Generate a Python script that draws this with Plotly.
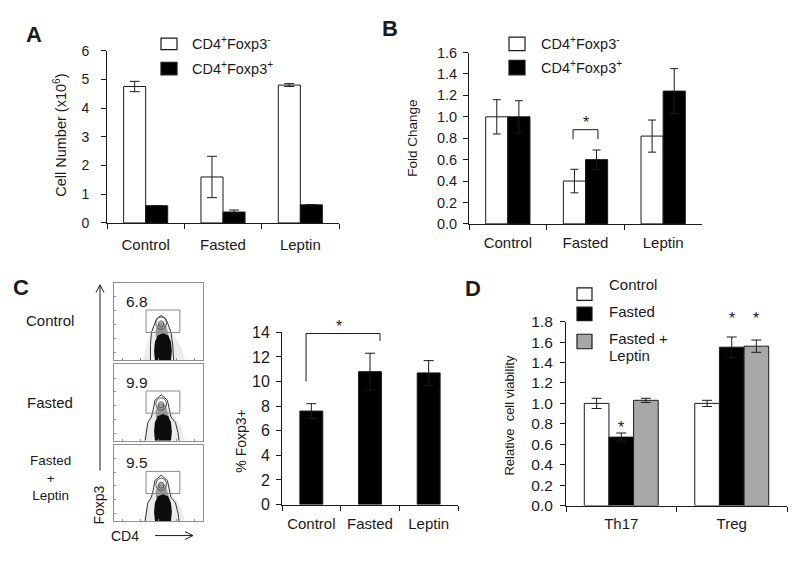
import plotly.graph_objects as go

W, H = 800, 562
FONT = "Liberation Sans, Arial, sans-serif"
INK = "#1a1a1a"
GREY_FILL = "#a8a8a8"
FRAME = "#8f8f8f"


def px(x):
    return x / W


def py(y):
    return 1 - y / H


# ---------------- data ----------------
CATS = ["Control", "Fasted", "Leptin"]

# Panel A: cell number (x10^6)
A_NEG = [4.75, 1.6, 4.8]
A_NEG_ERR = [0.18, 0.72, 0.05]
A_POS = [0.6, 0.38, 0.63]
A_POS_ERR = [0.0, 0.07, 0.0]
A_YTICKS = [0, 1, 2, 3, 4, 5, 6]

# Panel B: fold change
B_NEG = [1.0, 0.4, 0.82]
B_NEG_ERR = [0.16, 0.11, 0.15]
B_POS = [1.0, 0.6, 1.24]
B_POS_ERR = [0.15, 0.09, 0.21]
B_YTICKS = [0.0, 0.2, 0.4, 0.6, 0.8, 1.0, 1.2, 1.4, 1.6]
B_BRACKET_X = [1 - 0.16, 1 + 0.16]      # Fasted, CD4+Foxp3- vs CD4+Foxp3+
B_BRACKET_Y = [0.79, 0.88]
B_STAR = (1, 0.985)

# Panel C: flow plots
C_ROWS = ["Control", "Fasted", "Fasted<br>+<br>Leptin"]
C_GATE_PCT = ["6.8", "9.9", "9.5"]
# gate and contour outlines in flow-plot units (0-100)
GATE_X = [36, 74]
GATE_Y = [36, 65]
HALO_X = [33, 36, 42, 47, 61, 67, 76, 80]
HALO_Y = [0, 18, 34, 42, 42, 33, 16, 0]
CORE_X = [46, 45, 46, 49, 55, 61, 64, 65, 64]
CORE_Y = [0, 12, 24, 32, 35, 32, 24, 12, 0]
MID_X = [47, 47, 49, 53, 58, 60, 62]
MID_Y = [30, 40, 47, 50, 47, 40, 30]
OUT1_X = [41, 41, 42, 45, 48, 53, 58, 61, 64, 66, 67]
OUT1_Y = [0, 20, 36, 46, 54, 58, 54, 46, 36, 20, 0]
OUT2_X = [35, 36, 38, 42, 44, 46, 53, 60, 62, 64, 69, 72, 73]
OUT2_Y = [0, 10, 24, 31, 40, 53, 60, 53, 40, 31, 24, 10, 0]
RINGS = [(53, 48, 6, 8), (53, 47, 3, 4)]   # cx, cy, rx, ry

# Panel C: % Foxp3+
C_VALS = [7.6, 10.8, 10.7]
C_ERR = [0.6, 1.5, 1.0]
C_YTICKS = [0, 2, 4, 6, 8, 10, 12, 14]
C_BRACKET_X = [-0.09, 1.17]
C_BRACKET_Y = [10.0, 13.9, 13.3]   # left foot, top, right foot
C_STAR = (0.47, 14.8)

# Panel D: relative cell viability
D_CATS = ["Th17", "Treg"]
D_CTRL = [1.0, 1.0]
D_CTRL_ERR = [0.05, 0.03]
D_FAST = [0.67, 1.55]
D_FAST_ERR = [0.04, 0.10]
D_FL = [1.03, 1.56]
D_FL_ERR = [0.02, 0.06]
D_YTICKS = [0.0, 0.2, 0.4, 0.6, 0.8, 1.0, 1.2, 1.4, 1.6, 1.8]
D_STARS = [(0, 0.80, 0), (1, 1.87, 0), (1, 1.87, 1)]  # category, y, bar index offset

fig = go.Figure()


def bar(x, y, err, color, xa, ya, width, offset, cap=4, name=None):
    fig.add_trace(go.Bar(
        x=x, y=y, width=width, offset=offset, name=name, showlegend=False,
        marker=dict(color=color, line=dict(color=INK, width=1)),
        error_y=dict(type="data", array=err, color=INK, thickness=1, width=cap),
        xaxis=xa, yaxis=ya))


# A
wA = 0.285
bar(CATS, A_NEG, A_NEG_ERR, "white", "x", "y", wA, -wA, 5, "CD4+Foxp3-")
bar(CATS, A_POS, A_POS_ERR, "black", "x", "y", wA, 0, 5, "CD4+Foxp3+")
# B
bar(CATS, B_NEG, B_NEG_ERR, "white", "x2", "y2", wA, -wA, 4, "CD4+Foxp3-")
bar(CATS, B_POS, B_POS_ERR, "black", "x2", "y2", wA, 0, 4, "CD4+Foxp3+")
# C bar
wC = 0.39
bar(CATS, C_VALS, C_ERR, "black", "x3", "y3", wC, -wC / 2, 5, "% Foxp3+")
# D
wD = 0.223
bar(D_CATS, D_CTRL, D_CTRL_ERR, "white", "x4", "y4", wD, -1.5 * wD, 5, "Control")
bar(D_CATS, D_FAST, D_FAST_ERR, "black", "x4", "y4", wD, -0.5 * wD, 5, "Fasted")
bar(D_CATS, D_FL, D_FL_ERR, GREY_FILL, "x4", "y4", wD, 0.5 * wD, 5, "Fasted + Leptin")

# Flow plots
flow_axes = [("x5", "y5"), ("x6", "y6"), ("x7", "y7")]
for i, (xa, ya) in enumerate(flow_axes):
    out_x, out_y = (OUT1_X, OUT1_Y) if i == 0 else (OUT2_X, OUT2_Y)
    fig.add_trace(go.Scatter(x=HALO_X, y=HALO_Y, fill="toself", mode="lines",
                             line=dict(width=0), fillcolor="rgba(170,170,170,0.22)",
                             showlegend=False, xaxis=xa, yaxis=ya, hoverinfo="skip"))
    fig.add_trace(go.Scatter(x=MID_X, y=MID_Y, fill="toself", mode="lines",
                             line=dict(width=0), fillcolor="#9a9a9a",
                             showlegend=False, xaxis=xa, yaxis=ya, hoverinfo="skip"))
    fig.add_trace(go.Scatter(x=CORE_X, y=CORE_Y, fill="toself", mode="lines",
                             line=dict(width=0), fillcolor="#0d0d0d",
                             showlegend=False, xaxis=xa, yaxis=ya, hoverinfo="skip"))
    fig.add_trace(go.Scatter(x=out_x, y=out_y, mode="lines",
                             line=dict(color="#333", width=1),
                             showlegend=False, xaxis=xa, yaxis=ya, hoverinfo="skip"))

layout_axes = {}


def bar_axes(n, xd, yd, yrange, ytv, yfmt, ysize, xsize, ystand, xstand):
    sx = "" if n == 1 else str(n)
    layout_axes["xaxis" + sx] = dict(
        domain=[px(xd[0]), px(xd[1])], anchor="y" + sx, type="category",
        tickson="boundaries", ticks="outside", ticklen=5, tickcolor=INK,
        showline=True, linecolor=INK, linewidth=1, showgrid=False, zeroline=False,
        tickfont=dict(family=FONT, size=xsize, color=INK), ticklabelstandoff=xstand,
        fixedrange=True)
    layout_axes["yaxis" + sx] = dict(
        domain=[py(yd[1]), py(yd[0])], anchor="x" + sx, range=yrange,
        tickmode="array", tickvals=ytv, tickformat=yfmt, ticks="outside", ticklen=5,
        tickcolor=INK, showline=True, linecolor=INK, linewidth=1, showgrid=False,
        zeroline=False, tickfont=dict(family=FONT, size=ysize, color=INK),
        ticklabelstandoff=ystand, fixedrange=True)


bar_axes(1, (107, 339), (43, 221), [0, 6], A_YTICKS, "d", 14, 15, 9, 8)
bar_axes(2, (469, 702), (45, 222), [0, 1.6], B_YTICKS, ".1f", 14.5, 15, 3, 5)
bar_axes(3, (282, 458), (334, 512), [0, 14], C_YTICKS, "d", 16, 15, 3, 5)
bar_axes(4, (566, 787), (323, 513), [0, 1.8], D_YTICKS, ".1f", 15.5, 15, 4, 4)

flow_frames = [(283, 363), (367, 446), (450, 529)]
for i, (top, bot) in enumerate(flow_frames):
    sx = str(5 + i)
    layout_axes["xaxis" + sx] = dict(
        domain=[px(114), px(203)], anchor="y" + sx, range=[0, 100],
        showline=True, mirror=True, linecolor=FRAME, linewidth=1, showgrid=False,
        zeroline=False, ticks="inside", ticklen=2, tickcolor=FRAME,
        tickvals=[10, 30, 50, 70, 90], showticklabels=False, fixedrange=True)
    layout_axes["yaxis" + sx] = dict(
        domain=[py(bot), py(top)], anchor="x" + sx, range=[0, 100],
        showline=True, mirror=True, linecolor=FRAME, linewidth=1, showgrid=False,
        zeroline=False, ticks="inside", ticklen=2, tickcolor=FRAME,
        tickvals=[10, 28, 46, 64, 82], showticklabels=False, fixedrange=True)

shapes = []
annotations = []


def ann(x, y, text, size=14, xref="paper", yref="paper", xanchor="center",
        yanchor="middle", angle=0, bold=False, xshift=0, yshift=0):
    t = f"<b>{text}</b>" if bold else text
    annotations.append(dict(x=x, y=y, xref=xref, yref=yref, text=t, showarrow=False,
                            xanchor=xanchor, yanchor=yanchor, textangle=angle,
                            xshift=xshift, yshift=yshift,
                            font=dict(family=FONT, size=size, color=INK)))


def pbox(x0, y0, x1, y1, fill):
    shapes.append(dict(type="rect", xref="paper", yref="paper",
                       x0=px(x0), x1=px(x1), y0=py(y1), y1=py(y0),
                       fillcolor=fill, line=dict(color=INK, width=1.2)))


def pline(points, width=1):
    d = "M " + " L ".join(f"{px(a)} {py(b)}" for a, b in points)
    shapes.append(dict(type="path", xref="paper", yref="paper", path=d,
                       line=dict(color=INK, width=width)))


# panel letters
ann(px(34), py(26), "A", 22, bold=True)
ann(px(390), py(20), "B", 22, bold=True)
ann(px(21), py(288), "C", 22, bold=True)
ann(px(473), py(289), "D", 22, bold=True)

# y-axis titles
ann(px(60), py(131), "Cell Number (x10<sup>6</sup>)", 14.5, angle=-90)
ann(px(413), py(134), "Fold Change", 13.5, angle=-90)
ann(px(241), py(447), "% Foxp3+", 14, angle=-90)
ann(px(510), py(420), "Relative  cell viability", 13, angle=-90)

# legends A and B
NEG_LBL = "CD4<sup>+</sup>Foxp3<sup>-</sup>"
POS_LBL = "CD4<sup>+</sup>Foxp3<sup>+</sup>"
pbox(161, 30, 177, 42, "white")
pbox(161, 55, 177, 68, "black")
ann(px(190), py(35), NEG_LBL, 14.5, xanchor="left")
ann(px(190), py(61), POS_LBL, 14.5, xanchor="left")
pbox(509, 29, 525, 43, "white")
pbox(509, 53, 525, 68, "black")
ann(px(539), py(35), NEG_LBL, 14.5, xanchor="left")
ann(px(539), py(60), POS_LBL, 14.5, xanchor="left")

# legend D
pbox(577, 288, 592, 301, "white")
pbox(577, 308, 592, 322, "black")
pbox(577, 336, 592, 351, GREY_FILL)
ann(px(607), py(285), "Control", 15, xanchor="left")
ann(px(607), py(313), "Fasted", 15, xanchor="left")
ann(px(607), py(340), "Fasted +", 15, xanchor="left")
ann(px(607), py(358), "Leptin", 15, xanchor="left")

# significance marks B
shapes.append(dict(type="path", xref="x2", yref="y2",
                   path=f"M {B_BRACKET_X[0]} {B_BRACKET_Y[0]} L {B_BRACKET_X[0]} {B_BRACKET_Y[1]} "
                        f"L {B_BRACKET_X[1]} {B_BRACKET_Y[1]} L {B_BRACKET_X[1]} {B_BRACKET_Y[0]}",
                   line=dict(color=INK, width=1)))
ann(B_STAR[0], B_STAR[1], "*", 16, xref="x2", yref="y2", yshift=-4)

# significance marks C
shapes.append(dict(type="path", xref="x3", yref="y3",
                   path=f"M {C_BRACKET_X[0]} {C_BRACKET_Y[0]} L {C_BRACKET_X[0]} {C_BRACKET_Y[1]} "
                        f"L {C_BRACKET_X[1]} {C_BRACKET_Y[1]} L {C_BRACKET_X[1]} {C_BRACKET_Y[2]}",
                   line=dict(color=INK, width=1)))
ann(C_STAR[0], C_STAR[1] / 14, "*", 16, xref="x3", yref="y3 domain", yshift=-4)

# stars D (values above the axis range are placed via the domain reference)
for cat, yv, k in D_STARS:
    ann(cat + k * wD, yv / 1.8, "*", 16, xref="x4", yref="y4 domain", yshift=-4)

# flow plot decorations
for i, (xa, ya) in enumerate(flow_axes):
    shapes.append(dict(type="rect", xref=xa, yref=ya, x0=GATE_X[0], x1=GATE_X[1],
                       y0=GATE_Y[0], y1=GATE_Y[1], line=dict(color="#8a8a8a", width=1)))
    for cx, cy, rx, ry in RINGS:
        shapes.append(dict(type="circle", xref=xa, yref=ya, x0=cx - rx, x1=cx + rx,
                           y0=cy - ry, y1=cy + ry, line=dict(color="#555", width=1)))
    ann(26, 76, C_GATE_PCT[i], 15.5, xref=xa, yref=ya)

# row labels
ann(px(50), py(322), C_ROWS[0], 15)
ann(px(50), py(407), C_ROWS[1], 15)
annotations.append(dict(x=px(50), y=py(485), xref="paper", yref="paper", text=C_ROWS[2],
                        showarrow=False, xanchor="center", yanchor="middle",
                        font=dict(family=FONT, size=13.5, color=INK)))

# axis arrows for flow plots
pline([(100, 477), (100, 285)])
pline([(96, 293), (100, 285), (104, 293)])
ann(px(99), py(513), "Foxp3", 14, angle=-90)
ann(px(125), py(544), "CD4", 14)
pline([(155, 544), (193, 544)])
pline([(185, 540), (193, 544), (185, 548)])

fig.update_layout(
    width=W, height=H, autosize=False, margin=dict(l=0, r=0, t=0, b=0),
    paper_bgcolor="white", plot_bgcolor="white", barmode="overlay",
    showlegend=False, font=dict(family=FONT, size=14, color=INK),
    shapes=shapes, annotations=annotations, **layout_axes)

fig.write_html("out.html", config={"displayModeBar": False},
               post_script="document.body.style.margin='0';document.body.style.overflow='hidden';")
